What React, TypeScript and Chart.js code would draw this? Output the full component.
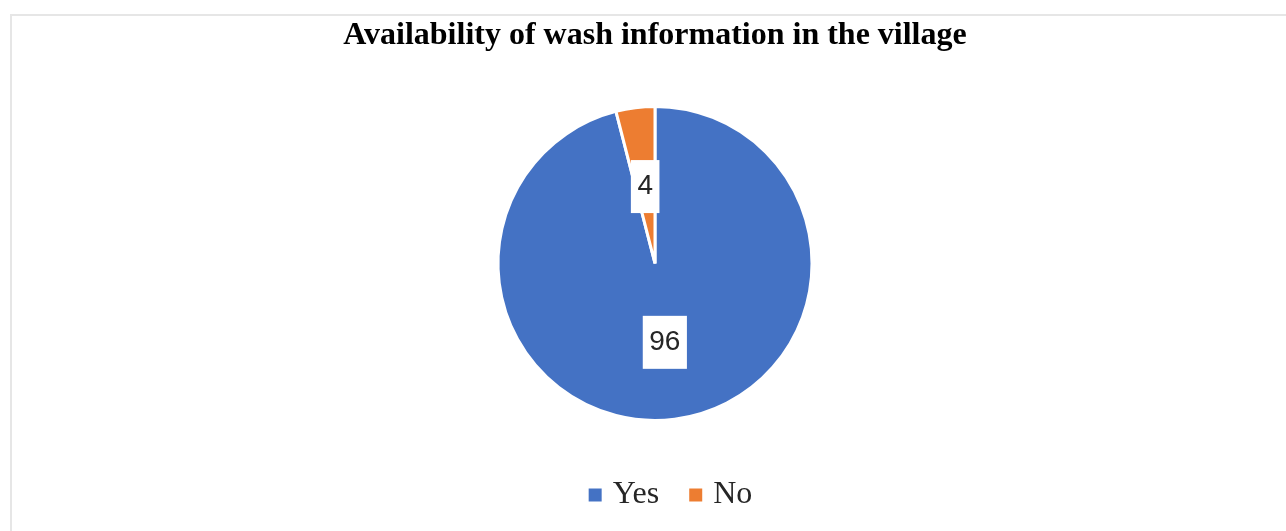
import React, { useEffect, useRef } from "react";
import { Chart, registerables } from "chart.js";

Chart.register(...registerables);

const categories: string[] = ["Yes", "No"];
const values: number[] = [96, 4];
const sliceColors: string[] = ["#4472C4", "#ED7D31"];
const chartTitle = "Availability of wash information in the village";

const sliceLabelPlugin = {
  id: "sliceLabels",
  afterDatasetsDraw(chart: any) {
    const ctx = chart.ctx as CanvasRenderingContext2D;
    const meta = chart.getDatasetMeta(0);
    const data = chart.data.datasets[0].data as number[];
    ctx.save();
    ctx.font = '28px "Liberation Sans", Arial, sans-serif';
    ctx.textAlign = "center";
    ctx.textBaseline = "middle";
    meta.data.forEach((arc: any, i: number) => {
      const p = arc.tooltipPosition();
      const text = String(data[i]);
      const w = ctx.measureText(text).width + 13;
      const h = 53;
      ctx.fillStyle = "#ffffff";
      ctx.fillRect(p.x - w / 2, p.y + 1 - h / 2, w, h);
      ctx.fillStyle = "#262626";
      ctx.fillText(text, p.x, p.y + 1);
    });
    ctx.restore();
  },
};

// the legend sits slightly right of the pie centre in the reference
const legendShiftPlugin = {
  id: "legendShift",
  afterLayout(chart: any) {
    const lg = chart.legend;
    if (lg) {
      lg.left += 18;
      lg.right += 18;
    }
  },
};

export default function App() {
  const canvasRef = useRef<HTMLCanvasElement | null>(null);

  useEffect(() => {
    document.body.style.margin = "0";
    const canvas = canvasRef.current;
    if (!canvas) return;
    const chart = new Chart(canvas, {
      type: "pie",
      data: {
        labels: categories,
        datasets: [
          {
            data: values,
            backgroundColor: sliceColors,
            borderColor: "#ffffff",
            borderWidth: 3,
            radius: 157,
          } as any,
        ],
      },
      options: {
        responsive: false,
        maintainAspectRatio: false,
        animation: false,
        layout: { padding: { left: 24, right: 0, top: 0, bottom: 10 } },
        plugins: {
          title: {
            display: true,
            text: chartTitle,
            color: "#000000",
            font: { family: '"Liberation Serif", "Times New Roman", serif', size: 32, weight: "bold" },
            padding: { top: 17, bottom: 27.5 },
          },
          legend: {
            display: true,
            position: "bottom",
            labels: {
              color: "#262626",
              font: { family: '"Liberation Serif", "Times New Roman", serif', size: 32 },
              usePointStyle: true,
              pointStyle: "rect",
              boxWidth: 3,
              boxHeight: 16,
              padding: 35,
            },
          },
          tooltip: { enabled: false },
        },
      } as any,
      plugins: [sliceLabelPlugin, legendShiftPlugin],
    });
    return () => chart.destroy();
  }, []);

  return (
    <div style={{ position: "relative", width: 1286, height: 531, background: "#ffffff", overflow: "hidden" }}>
      <div
        style={{
          position: "absolute",
          left: 10,
          top: 14,
          right: -10,
          bottom: -10,
          borderTop: "2px solid #e6e6e6",
          borderLeft: "2px solid #e6e6e6",
        }}
      />
      <canvas ref={canvasRef} width={1286} height={531} style={{ position: "absolute", left: 0, top: 0 }} />
    </div>
  );
}
